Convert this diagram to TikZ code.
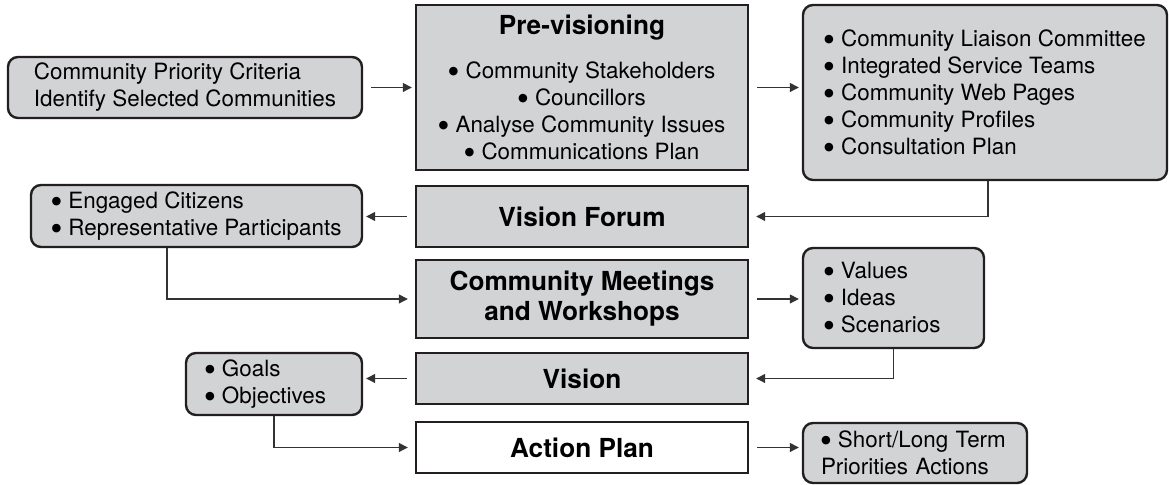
\documentclass[tikz,border=0pt]{standalone}
\usepackage{fontspec}
\setmainfont{TeX Gyre Heros}
\newfontfamily\dotfont{DejaVu Sans}
\usepackage{xcolor}
\usetikzlibrary{arrows.meta}
\definecolor{boxgray}{RGB}{210,211,213}
\definecolor{edgeink}{RGB}{35,31,32}
\newcommand\itembullet{\raisebox{2.1pt}{\fontsize{5.6pt}{6pt}\dotfont\symbol{"25CF}}\kern3.6pt}

\begin{document}
\begin{tikzpicture}[x=0.5pt, y=0.5pt,
    stage/.style={draw=edgeink, line width=1.2pt, fill=boxgray, minimum width=166pt,
        inner sep=0pt, align=center, font=\fontsize{13.1pt}{15pt}\selectfont\bfseries},
    listbox/.style={draw=edgeink, line width=1.2pt, fill=boxgray, rounded corners=5pt,
        inner sep=0pt, align=left, font=\fontsize{11.2pt}{13.5pt}\selectfont},
    link/.style={draw=black!80, line width=0.6pt, -{Triangle[length=4.5pt,width=4.5pt]},
        shorten <=4pt, shorten >=1.5pt},
    elbow/.style={link, shorten <=0pt, shorten >=3.5pt}]

    % Frame
    \useasboundingbox (0,0) rectangle (1169,485);

    % Stages down the middle
    \node[stage, minimum height=82.5pt, font=\fontsize{11.2pt}{13.5pt}\selectfont] (prev) at (582,397.5)
        {{\fontsize{13.1pt}{15pt}\selectfont\bfseries Pre-visioning}\\[8.5pt]
         \itembullet Community Stakeholders\\
         \itembullet Councillors\\
         \itembullet Analyse Community Issues\\
         \itembullet Communications Plan};
    \node[stage, minimum height=30.5pt] (forum) at (582,268.5) {Vision Forum};
    \node[stage, minimum height=39pt] (meet) at (582,186) {Community Meetings\\and Workshops};
    \node[stage, minimum height=25.5pt] (vision) at (582,106.5) {Vision};
    \node[stage, minimum height=25.5pt, fill=white] (action) at (582,37.5) {Action Plan};

    % Left column
    \node[listbox, minimum width=177pt, minimum height=30.5pt] (crit) at (185,397.5)
        {Community Priority Criteria\\Identify Selected Communities};
    \node[listbox, minimum width=165.5pt, minimum height=31pt] (engaged) at (196.5,269)
        {\itembullet Engaged Citizens\\\itembullet Representative Participants};
    \node[listbox, minimum width=88pt, minimum height=31pt, text width=69pt, inner xsep=9.5pt] (goals) at (274,101)
        {\itembullet Goals\\\itembullet Objectives};

    % Right column
    \node[listbox, minimum width=182pt, minimum height=87.5pt] (tools) at (985,392.5)
        {\itembullet Community Liaison Committee\\
         \itembullet Integrated Service Teams\\
         \itembullet Community Web Pages\\
         \itembullet Community Profiles\\
         \itembullet Consultation Plan};
    \node[listbox, minimum width=90.5pt, minimum height=50pt, text width=69.5pt, inner xsep=10.5pt] (values) at (893.5,187)
        {\itembullet Values\\\itembullet Ideas\\\itembullet Scenarios};
    \node[listbox, minimum width=112pt, minimum height=30pt, text width=94pt, inner xsep=9pt] (actions) at (915,32)
        {\itembullet Short/Long Term\\Priorities Actions};

    % Connectors
    \draw[link] (crit.east) -- (crit.east -| prev.west);
    \draw[link] (prev.east) -- (prev.east -| tools.west);
    \draw[elbow] ([xshift=1.5pt]tools.south) |- (forum.east);
    \draw[link] (forum.west) -- (forum.west -| engaged.east);
    \draw[elbow] ([xshift=-14.75pt]engaged.south) |- (meet.west);
    \draw[link] (meet.east) -- (meet.east -| values.west);
    \draw[elbow] (values.south) |- (vision.east);
    \draw[link] (vision.west) -- (vision.west -| goals.east);
    \draw[elbow] (goals.south) |- (action.west);
    \draw[link] (action.east) -- (action.east -| actions.west);
\end{tikzpicture}
\end{document}
